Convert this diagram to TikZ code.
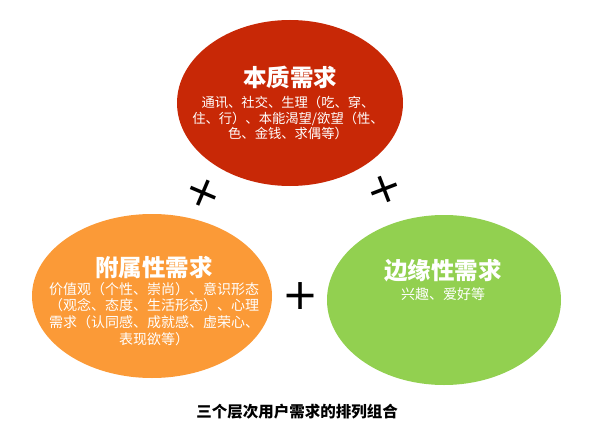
\documentclass[tikz,border=0pt]{standalone}
\usepackage{fontspec}
\usepackage{tikz}
\usetikzlibrary{shapes.geometric}
\newfontfamily\cjk{Noto Sans CJK SC}
\newfontfamily\plusfont{DejaVu Sans}
\definecolor{corered}{HTML}{C82806}
\definecolor{extraorange}{HTML}{FB9A37}
\definecolor{edgegreen}{HTML}{92D050}

\begin{document}
\begin{tikzpicture}[x=1pt,y=1pt]
\tikzstyle{every node}+=[inner sep=0pt]
\tikzstyle{need}=[ellipse, draw=none]
\tikzstyle{needtitle}=[font=\cjk\bfseries\fontsize{23.5}{26}\selectfont, text=white]
\tikzstyle{needbody}=[text=white, align=center]
\tikzstyle{plussign}=[font=\plusfont\fontsize{43}{43}\selectfont, text=black]
\useasboundingbox (0,0) rectangle (589,-444);
\node [need, fill=corered, minimum width=226, minimum height=166] (core) at (290,-103) {};
\node [need, fill=extraorange, minimum width=240, minimum height=164] (extra) at (152,-296) {};
\node [need, fill=edgegreen, minimum width=234, minimum height=170] (edge) at (444,-300) {};
\node [needtitle] (coretitle) at (290,-77) {本质需求};
\node [needbody, font=\cjk\fontsize{13.3}{15.5}\selectfont] (corebody) at (288,-118)
  {通讯、社交、生理（吃、穿、\\住、行）、本能渴望/欲望（性、\\色、金钱、求偶等）};
\node [needtitle] (extratitle) at (154,-267) {附属性需求};
\node [needbody, font=\cjk\fontsize{14}{16.7}\selectfont] (extrabody) at (154,-314)
  {价值观（个性、崇尚）、意识形态\\（观念、态度、生活形态）、心理\\需求（认同感、成就感、虚荣心、\\表现欲等）};
\node [needtitle] (edgetitle) at (443,-271) {边缘性需求};
\node [needbody, font=\cjk\fontsize{14}{16.7}\selectfont] (edgebody) at (443,-294) {兴趣、爱好等};
\node [plussign, rotate=-23] (plusleft) at (203,-193) {+};
\node [plussign, rotate=21] (plusright) at (384,-189) {+};
\node [plussign] (plusmid) at (301,-296) {+};
\node [font=\cjk\bfseries\fontsize{15.5}{18}\selectfont] (caption) at (297,-412) {三个层次用户需求的排列组合};
\end{tikzpicture}
\end{document}
